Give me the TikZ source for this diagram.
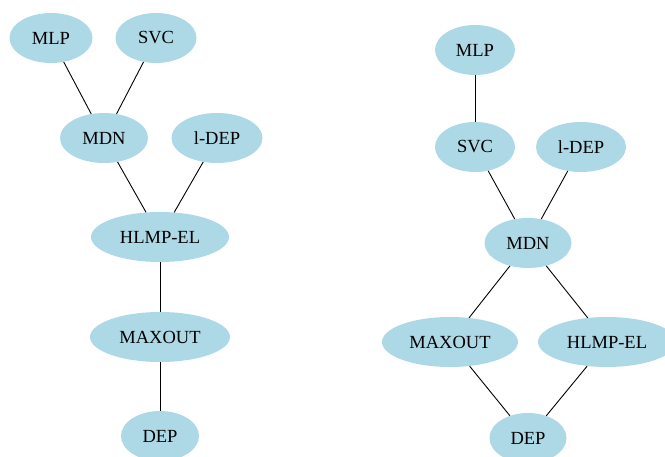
\documentclass[tikz,border=0pt]{standalone}
\usepackage{fontspec}
\setmainfont{Liberation Serif}
\usetikzlibrary{shapes.geometric}
\definecolor{lb}{HTML}{ADD8E6}
\begin{document}
\begin{tikzpicture}[x=1pt,y=-1pt,
  nd/.style={ellipse,fill=lb,draw=none,inner sep=0pt,minimum height=50pt,font=\fontsize{18.5}{20}\selectfont},
  ln/.style={line width=0.9pt,black}]
\useasboundingbox (0,0) rectangle (665,457);
% left graph
\node[nd,minimum width=83pt] (aMLP) at (51,38) {MLP};
\node[nd,minimum width=81pt] (aSVC) at (156,38) {SVC};
\node[nd,minimum width=88pt] (aMDN) at (104,138) {MDN};
\node[nd,minimum width=91pt] (aLDEP) at (217,138) {l-DEP};
\node[nd,minimum width=138pt] (aHL) at (160,237) {HLMP-EL};
\node[nd,minimum width=140pt] (aMAX) at (160,337) {MAXOUT};
\node[nd,minimum width=78pt] (aDEP) at (160,436) {DEP};
\draw[ln] (aMLP) -- (aMDN);
\draw[ln] (aSVC) -- (aMDN);
\draw[ln] (aMDN) -- (aHL);
\draw[ln] (aLDEP) -- (aHL);
\draw[ln] (aHL) -- (aMAX);
\draw[ln] (aMAX) -- (aDEP);
% right graph
\node[nd,minimum width=80pt] (bMLP) at (475,50) {MLP};
\node[nd,minimum width=80pt] (bSVC) at (475,147) {SVC};
\node[nd,minimum width=90pt] (bLDEP) at (581,147) {l-DEP};
\node[nd,minimum width=87pt] (bMDN) at (528,243) {MDN};
\node[nd,minimum width=136pt] (bMAX) at (450,342) {MAXOUT};
\node[nd,minimum width=138pt] (bHL) at (607,342) {HLMP-EL};
\node[nd,minimum width=77pt] (bDEP) at (528,438) {DEP};
\draw[ln] (bMLP) -- (bSVC);
\draw[ln] (bSVC) -- (bMDN);
\draw[ln] (bLDEP) -- (bMDN);
\draw[ln] (bMDN) -- (bMAX);
\draw[ln] (bMDN) -- (bHL);
\draw[ln] (bMAX) -- (bDEP);
\draw[ln] (bHL) -- (bDEP);
\end{tikzpicture}
\end{document}
